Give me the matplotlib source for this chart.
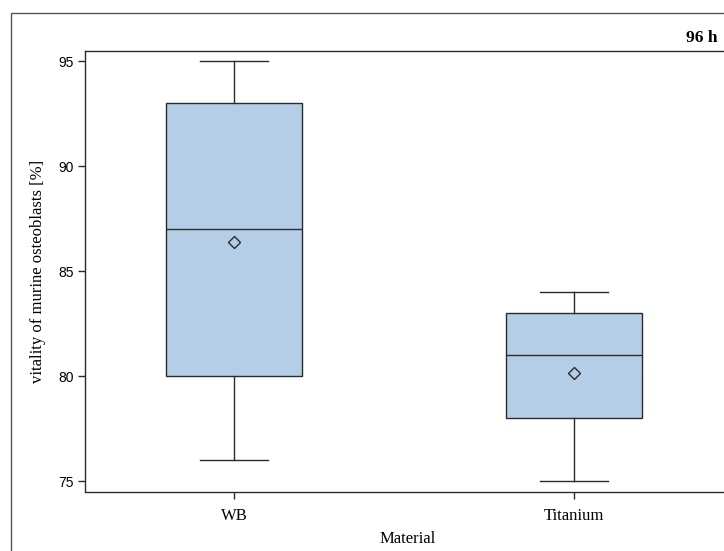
import matplotlib
matplotlib.use("Agg")
import matplotlib.pyplot as plt
from matplotlib.patches import Rectangle

# Box statistics per material (vitality of murine osteoblasts, %)
materials = ["WB", "Titanium"]
whisker_low = [76, 75]
q1 = [80, 78]
medians = [87, 81]
q3 = [93, 83]
whisker_high = [95, 84]
means = [86.4, 80.15]
panel_title = "96 h"

SERIF = ["Liberation Serif", "DejaVu Serif"]
SANS = ["Liberation Sans", "DejaVu Sans"]
BOX_FILL = "#b4cee8"
EDGE = "#2b2b2b"

fig = plt.figure(figsize=(7.24, 5.51), dpi=100)
W, H = 724, 551

# outer frame, clipped at the right and bottom edges of the figure
fig.patches.append(Rectangle((11 / W, -0.1), 1.2, (H - 13) / H + 0.1,
                             transform=fig.transFigure, fill=False,
                             edgecolor="#555555", linewidth=1.0))

ax = fig.add_axes([85 / W, (H - 491.5) / H, 645 / W, (491.5 - 51) / H])

stats = []
for i, name in enumerate(materials):
    stats.append({
        "label": name, "whislo": whisker_low[i], "q1": q1[i], "med": medians[i],
        "q3": q3[i], "whishi": whisker_high[i], "mean": means[i], "fliers": [],
    })

ax.bxp(stats, positions=[1, 2], widths=0.4, showmeans=True, patch_artist=True,
       boxprops=dict(facecolor=BOX_FILL, edgecolor=EDGE, linewidth=1.0),
       medianprops=dict(color=EDGE, linewidth=1.0),
       whiskerprops=dict(color=EDGE, linewidth=1.0),
       capprops=dict(color=EDGE, linewidth=1.0),
       capwidths=0.2,
       meanprops=dict(marker="D", markerfacecolor="none", markeredgecolor=EDGE,
                      markersize=6.5, markeredgewidth=1.0))

ax.set_xlim(0.5618, 0.5618 + 645 / 340)
ax.set_ylim(74.52, 95.5)
ax.set_yticks([75, 80, 85, 90, 95])

for side in ["left", "bottom", "top"]:
    ax.spines[side].set_color(EDGE)
    ax.spines[side].set_linewidth(1.0)
ax.spines["right"].set_visible(False)

ax.tick_params(axis="both", direction="out", length=5, width=1.0, color=EDGE)
ax.tick_params(axis="y", pad=3)
ax.tick_params(axis="x", pad=7)
for lbl in ax.get_yticklabels():
    lbl.set_fontfamily(SANS)
    lbl.set_fontsize(10)
for lbl in ax.get_xticklabels():
    lbl.set_fontfamily(SERIF)
    lbl.set_fontsize(12)

ax.set_xlabel("Material", fontfamily=SERIF, fontsize=12, labelpad=5)
ax.set_ylabel("vitality of murine osteoblasts [%]", fontfamily=SERIF,
              fontsize=12, labelpad=9)

fig.text(717 / W, (H - 38) / H, panel_title, ha="right", va="center",
         fontfamily=SERIF, fontsize=12.5, fontweight="bold")

fig.savefig("out.png", dpi=100)
